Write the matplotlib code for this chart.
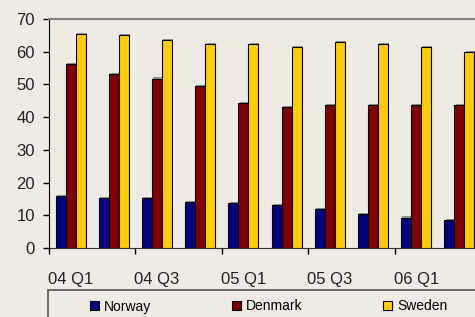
import numpy as np
import matplotlib.pyplot as plt
import matplotlib.patheffects as pe
from matplotlib.patches import Rectangle

plt.rcParams['font.family'] = ['Liberation Sans', 'DejaVu Sans']

#data
quarters = ["04 Q1", "04 Q2", "04 Q3", "04 Q4", "05 Q1", "05 Q2",
            "05 Q3", "05 Q4", "06 Q1", "06 Q2"]
norway = [15.9, 15.4, 15.2, 14.0, 13.7, 13.1, 11.9, 10.5, 9.3, 8.5]
denmark = [56.3, 53.3, 51.8, 49.4, 44.3, 43.2, 43.7, 43.7, 43.6, 43.6]
sweden = [65.4, 65.2, 63.5, 62.3, 62.3, 61.5, 62.9, 62.3, 61.5, 60.0]

series = [("Norway", norway, "#000080"),
          ("Denmark", denmark, "#800000"),
          ("Sweden", sweden, "#FFCC00")]

bg = "#EEEBE5"
W, H = 475, 317

fig = plt.figure(figsize=(4.75, 3.17), dpi=100, facecolor=bg)
ax = fig.add_axes([49 / W, (H - 248) / H, 432 / W, 229 / H], facecolor=bg)

#bars
x = np.arange(len(quarters))
bw = 0.231
shadow = [pe.SimplePatchShadow(offset=(0.8, 0.8), shadow_rgbFace="#555555", alpha=0.6),
          pe.Normal()]
for i, (name, vals, col) in enumerate(series):
    ax.bar(x + (i - 1) * bw, vals, width=bw, color=col, edgecolor="black",
           linewidth=0.8, label=name, path_effects=shadow, zorder=3)

#axes
ax.set_xlim(-0.5, 9.5)
ax.set_ylim(0, 70)
ax.set_yticks(range(0, 71, 10))
ax.set_xticks(x[::2])
ax.set_xticklabels(quarters[::2])
ax.set_xticks(np.arange(-0.5, 10, 2), minor=True)
ax.tick_params(axis="x", which="major", length=0, pad=17, labelsize=12, labelcolor="#222222")
ax.tick_params(axis="x", which="minor", length=4, width=1, direction="out")
ax.tick_params(axis="y", length=4, width=1, direction="out", pad=6, labelsize=12,
               labelcolor="#222222")
ax.spines["right"].set_visible(False)
ax.spines["top"].set_color("#808080")
ax.spines["top"].set_linewidth(1.5)
ax.spines["left"].set_color("black")
ax.spines["bottom"].set_color("#333333")

#legend
fig.patches.append(Rectangle((48 / W, -0.05), 1.0, 0.05 + (H - 290) / H,
                             transform=fig.transFigure, fill=False,
                             edgecolor="#555555", linewidth=1.2))
leg = fig.legend(loc="center left", bbox_to_anchor=(90 / W, 1 - 306.5 / H), ncol=3,
                 frameon=False, fontsize=10, borderpad=0, borderaxespad=0,
                 handlelength=0.65, handleheight=0.65, handletextpad=0.36,
                 columnspacing=5.8)
for h in leg.legend_handles:
    h.set_path_effects([])

fig.savefig("out.png", dpi=100, facecolor=bg)
